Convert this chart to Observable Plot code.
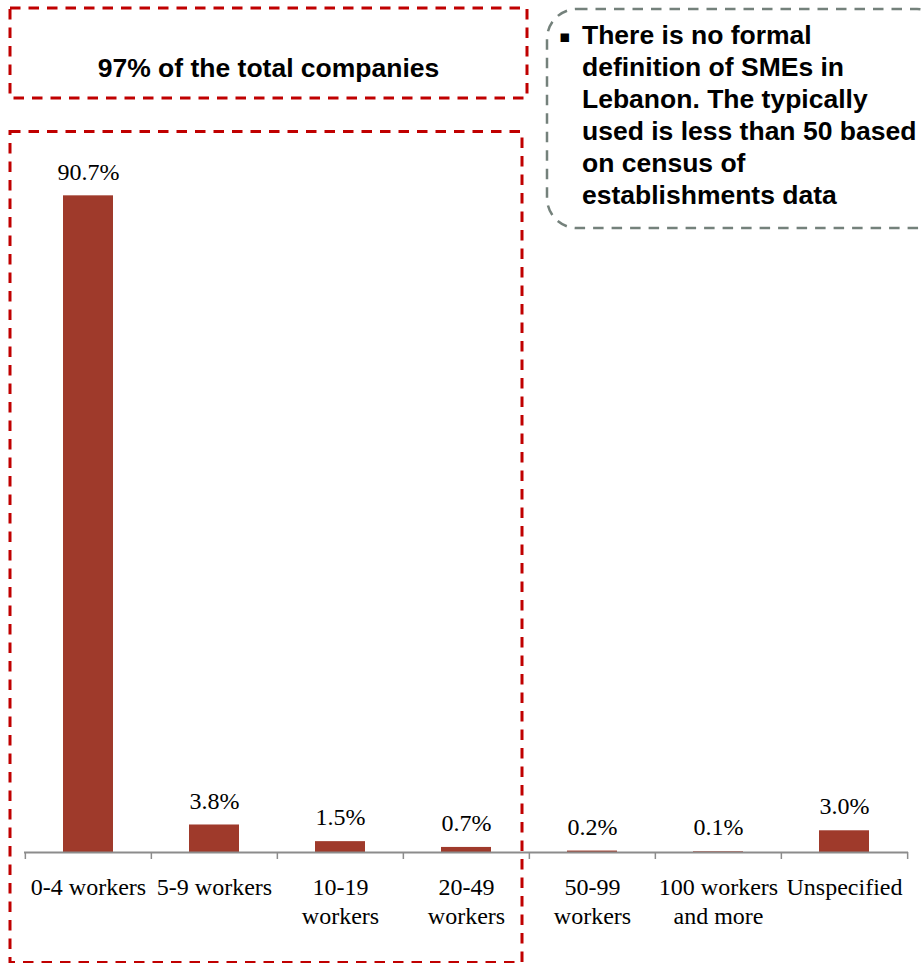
<!DOCTYPE html>
<html>
<head>
<meta charset="utf-8">
<script src="https://cdn.jsdelivr.net/npm/d3@7"></script>
<script src="https://cdn.jsdelivr.net/npm/@observablehq/plot@0.6"></script>
<style>
  html, body { margin: 0; padding: 0; background: #fff; }
  #wrap { position: relative; width: 922px; height: 963px; overflow: hidden; }
  #overlay { position: absolute; left: 0; top: 0; pointer-events: none; }
</style>
</head>
<body>
<div id="wrap"></div>
<script>
const categories = ["0-4 workers", "5-9 workers", "10-19 workers", "20-49 workers", "50-99 workers", "100 workers and more", "Unspecified"];
const tickLabels = ["0-4 workers", "5-9 workers", "10-19\nworkers", "20-49\nworkers", "50-99\nworkers", "100 workers\nand more", "Unspecified"];
const values = [90.7, 3.8, 1.5, 0.7, 0.2, 0.1, 3.0];
const titleText = "97% of the total companies";
const noteLines = ["There is no formal", "definition of SMEs in", "Lebanon. The typically", "used is less than 50 based", "on census of", "establishments data"];

const data = categories.map((c, i) => ({category: c, value: values[i]}));
const labelOf = new Map(categories.map((c, i) => [c, tickLabels[i]]));

const W = 922, H = 963, mL = 24, mR = 14;
const step = (W - mL - mR) / categories.length;
const axisColor = "#8c8c8c";

const chart = Plot.plot({
  width: W,
  height: H,
  marginLeft: mL,
  marginRight: mR,
  marginTop: 128,
  marginBottom: 111,
  style: {fontFamily: "'Liberation Serif', 'Times New Roman', serif", fontSize: "24px", color: "#000", background: "transparent"},
  x: {domain: categories, paddingInner: 0.6, paddingOuter: 0.3, axis: null, label: null},
  y: {domain: [0, 100], axis: null},
  marks: [
    Plot.barY(data, {x: "category", y: "value", fill: "#9f3a2b"}),
    Plot.ruleY([0], {stroke: axisColor, strokeWidth: 2}),
    Plot.axisX({ticks: categories, tickSize: 7, fill: "none", stroke: axisColor, strokeWidth: 1.5, dx: -step / 2, label: null}),
    Plot.axisX({ticks: [categories[categories.length - 1]], tickSize: 7, fill: "none", stroke: axisColor, strokeWidth: 1.5, dx: step / 2, label: null}),
    Plot.axisX({ticks: categories, tickSize: 0, tickPadding: 23, tickFormat: d => labelOf.get(d), fontSize: 24, lineHeight: 1.17, fill: "#000", label: null}),
    Plot.text(data, {x: "category", y: "value", text: d => d.value.toFixed(1) + "%", dy: -24, fontSize: 24, fill: "#000"})
  ]
});
document.getElementById("wrap").appendChild(chart);

// Decorative annotation boxes and texts
const ov = d3.select("#wrap").append("svg")
  .attr("id", "overlay").attr("width", W).attr("height", H);

const dash = "10.5,8";
ov.append("rect").attr("x", 10).attr("y", 8).attr("width", 517).attr("height", 90)
  .attr("fill", "none").attr("stroke", "#c00000").attr("stroke-width", 3).attr("stroke-dasharray", dash);
ov.append("rect").attr("x", 10).attr("y", 131.5).attr("width", 512).attr("height", 831)
  .attr("fill", "none").attr("stroke", "#c00000").attr("stroke-width", 3).attr("stroke-dasharray", dash);
ov.append("rect").attr("x", 547).attr("y", 9).attr("width", 400).attr("height", 219).attr("rx", 30).attr("ry", 30)
  .attr("fill", "none").attr("stroke", "#74817b").attr("stroke-width", 2.5).attr("stroke-dasharray", dash);

ov.append("text").attr("x", 268.5).attr("y", 77).attr("text-anchor", "middle")
  .attr("font-family", "'Liberation Sans', Arial, sans-serif").attr("font-weight", "bold").attr("font-size", 26.5)
  .attr("fill", "#000").text(titleText);

const note = ov.append("text")
  .attr("font-family", "'Liberation Sans', Arial, sans-serif").attr("font-weight", "bold").attr("font-size", 26.5)
  .attr("fill", "#000");
note.selectAll("tspan").data(noteLines).join("tspan")
  .attr("x", 582).attr("y", (d, i) => 44 + i * 32).text(d => d);
ov.append("text").attr("x", 559).attr("y", 42)
  .attr("font-family", "'DejaVu Sans', sans-serif").attr("font-size", 17).attr("fill", "#000").text("\u25AA");
</script>
</body>
</html>
